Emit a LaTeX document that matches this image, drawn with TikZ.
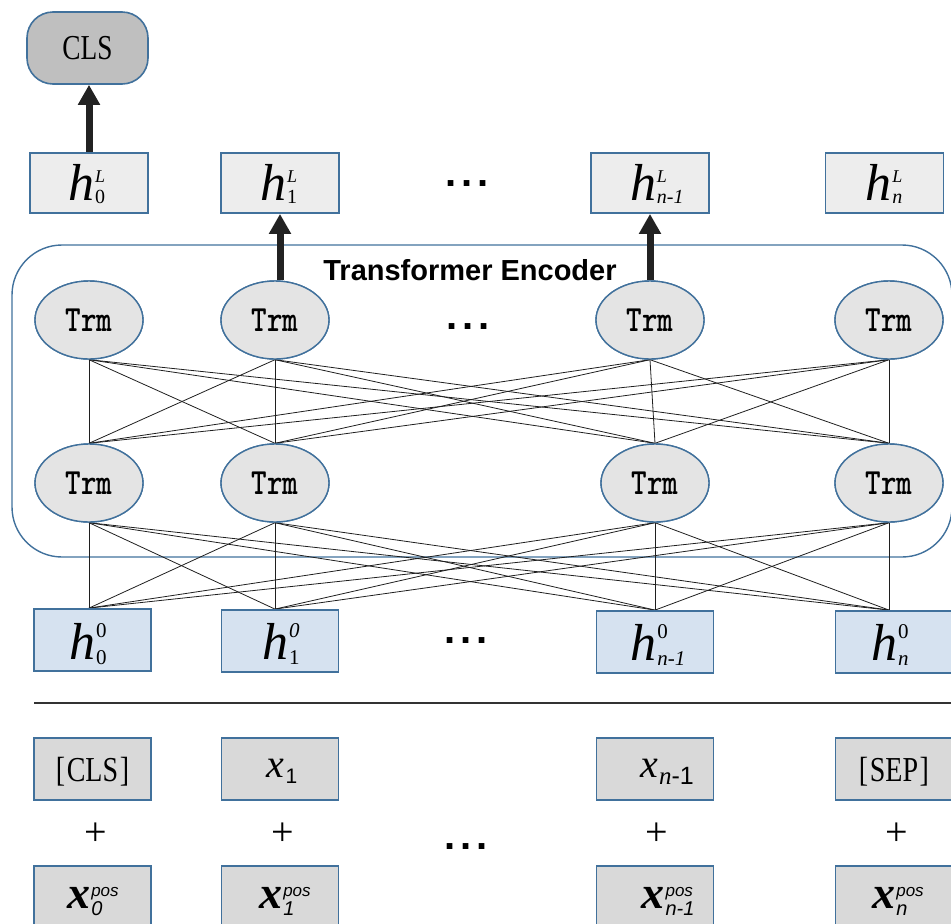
\documentclass[tikz,border=0pt]{standalone}
\usepackage{fontspec}
\usepackage{graphicx}
\usepackage{calc}
\setmainfont{Liberation Serif}
\setsansfont{Liberation Sans}
\usetikzlibrary{arrows.meta,shapes.geometric}

\definecolor{bblue}{HTML}{41719C}
\definecolor{hgray}{HTML}{EDEDED}
\definecolor{tgray}{HTML}{E4E4E4}
\definecolor{hblue}{HTML}{D6E2F0}
\definecolor{igray}{HTML}{D9D9D9}
\definecolor{clsgray}{HTML}{BFBFBF}
\definecolor{meshc}{HTML}{1F1F1F}
\definecolor{arrc}{HTML}{222222}
\definecolor{rulec}{HTML}{333333}

\newcommand\fs[1]{\fontsize{#1}{#1}\selectfont}
% stacked super/subscript: sup, sub, raise, lower
\newlength\scrw
\newcommand\scr[4]{%
  \setlength\scrw{\maxof{\widthof{#1}}{\widthof{#2}}}%
  \rlap{\raisebox{#3}{#1}}\rlap{\raisebox{-#4}{#2}}\hspace*{\scrw}}
\newcommand\hsym{{\fs{52}\itshape h}\kern0.5pt}
\newcommand\hL[1]{\hsym{\fs{20}\scr{{\fs{18}\itshape L}}{#1}{18pt}{3pt}}}
\newcommand\hZ[2]{\hsym{\fs{21}\scr{#1}{#2}{22pt}{5pt}}}
\newcommand\xpos[1]{{\bfseries\itshape\fs{46}x}\kern1pt{\sffamily\itshape\scr{\fs{17}pos}{\fs{20}#1}{12pt}{7pt}}}
\newcommand\dotsrow{{\sffamily\bfseries\fs{40}.\kern5pt.\kern5pt.}}
\newcommand\trm{\scalebox{0.8}[1]{\ttfamily\bfseries\fs{37}Trm}}

\begin{document}
\begin{tikzpicture}[x=1pt,y=-1pt,
  bord/.style={draw=bblue,line width=1.8pt},
  hbox/.style={bord,fill=hgray,minimum width=118pt,minimum height=60pt,inner sep=0},
  hzbox/.style={bord,fill=hblue,minimum width=117pt,minimum height=62pt,inner sep=0},
  inbox/.style={bord,fill=igray,minimum width=117pt,minimum height=62pt,inner sep=0},
  trmnode/.style={ellipse,draw=bblue,line width=1.4pt,fill=tgray,minimum width=108pt,minimum height=78pt,inner sep=0},
  mesh/.style={draw=meshc,line width=0.8pt},
  bigarrow/.style={draw=arrc,line width=7pt,-{Triangle[length=20pt,width=21pt]}},
  lab/.style={anchor=base,inner sep=0},
  plus/.style={inner sep=0,font=\fs{40}},
]
\useasboundingbox (0,0) rectangle (951,924);
\clip (0,0) rectangle (951,924);

% encoder frame
\node[draw=bblue,line width=1.4pt,rounded corners=50pt,minimum width=940pt,minimum height=312pt,inner sep=0] (enc) at (482,401) {};
\node[lab] (enctitle) at (470,280) {\sffamily\bfseries\fs{29}Transformer Encoder};

% transformer blocks
\node[trmnode] (ta) at (89,320) {\trm};
\node[trmnode] (tb) at (275,320) {\trm};
\node[trmnode] (tc) at (650,320) {\trm};
\node[trmnode] (td) at (889,320) {\trm};
\node[trmnode] (ba) at (89,483) {\trm};
\node[trmnode] (bb) at (275,483) {\trm};
\node[trmnode] (bc) at (655,483) {\trm};
\node[trmnode] (bd) at (889,483) {\trm};

% input representation boxes
\node[hzbox] (h00) at (92.5,640) {};
\node[hzbox] (h01) at (280,641) {};
\node[hzbox] (h0m) at (655,642) {};
\node[hzbox] (h0n) at (894,642) {};

% full connections between layers
\foreach \u in {ta,tb,tc,td}
  \foreach \v in {ba,bb,bc,bd}
    \draw[mesh] (\u.south) -- (\v.north);
\foreach \u in {ba,bb,bc,bd}
  \foreach \v/\z in {ba/h00,bb/h01,bc/h0m,bd/h0n}
    \draw[mesh] (\u.south) -- (\v.south |- \z.north);

% blocks drawn again over the line ends
\foreach \p in {{89,320},{275,320},{650,320},{889,320},{89,483},{275,483},{655,483},{889,483}}
  \node[trmnode] at (\p) {\trm};
\node[hzbox] at (92.5,640) {};
\node[hzbox] at (280,641) {};
\node[hzbox] at (655,642) {};
\node[hzbox] at (894,642) {};

% output hidden states
\node[draw=bblue,line width=1.6pt,fill=clsgray,rounded corners=26pt,minimum width=121pt,minimum height=72pt,inner sep=0] (cls) at (87.5,48) {\scalebox{0.78}[1]{\fs{35}CLS}};
\node[hbox] (hL0) at (89,183) {};
\node[hbox] (hL1) at (280,183) {};
\node[hbox] (hLm) at (650,183) {};
\node[hbox] (hLn) at (884.5,183) {};
\node[lab] (lhL0) at (87,200) {\hL{0}};
\node[lab] (lhL1) at (279,200) {\hL{1}};
\node[lab] (lhLm) at (657,200) {\hL{\itshape n-1}};
\node[lab] (lhLn) at (884,200) {\hL{\itshape n}};
\node[lab] (dots1) at (467,186) {\dotsrow};
\node[lab] (dots2) at (468,329) {\dotsrow};

% arrows
\draw[bigarrow] (hL0.north) -- (hL0.north |- cls.south);
\draw[bigarrow] (hL1.south |- tb.north) -- (hL1.south);
\draw[bigarrow] (tc.north) -- (tc.north |- hLm.south);

% labels of the input representations
\node[lab] (lh00) at (88,659) {\hZ{0}{0}};
\node[lab] (lh01) at (281,659) {\hZ{\itshape 0}{1}};
\node[lab] (lh0m) at (658,660) {\hZ{0}{\itshape n-1}};
\node[lab] (lh0n) at (890,660) {\hZ{0}{\itshape n}};
\node[lab] (dots3) at (466,643) {\dotsrow};

% separator
\coordinate (ruleL) at (34,703);
\coordinate (ruleR) at (951,703);
\draw[rulec,line width=2pt] (ruleL) -- (ruleR);

% token embeddings
\node[inbox] (ic) at (92.5,769) {};
\node[inbox] (i1) at (280,769) {};
\node[inbox] (im) at (655,769) {};
\node[inbox] (is) at (894,769) {};
\node[lab] (lic) at (92.5,781) {\scalebox{0.8}[1]{\fs{35}[\kern2pt CLS\kern2pt]}};
\node[lab] (li1) at (282,777) {{\itshape\fs{40}x}\kern1pt{\sffamily\fs{21}\raisebox{-6pt}{1}}};
\node[lab] (lim) at (667,777) {{\itshape\fs{40}x}\kern1pt{\fs{25}\raisebox{-7pt}{\itshape n{\sffamily\upshape -1}}}};
\node[lab] (lis) at (894,781) {\scalebox{0.8}[1]{\fs{35}[\kern2pt SEP\kern2pt]}};

% plus signs
\node[plus] (pl0) at (96,834) {+};
\node[plus] (pl1) at (283,834) {+};
\node[plus] (plm) at (657,834) {+};
\node[plus] (pln) at (897,834) {+};
\node[lab] (dots4) at (466,849) {\dotsrow};

% position embeddings
\node[inbox] (p0) at (92.5,897) {};
\node[inbox] (p1) at (280,897) {};
\node[inbox] (pm) at (655,897) {};
\node[inbox] (pn) at (894,897) {};
\node[lab] (lp0) at (93,908) {\xpos{0}};
\node[lab] (lp1) at (285,908) {\xpos{1}};
\node[lab] (lpm) at (668,908) {\xpos{n-1}};
\node[lab] (lpn) at (898,908) {\xpos{n}};
\end{tikzpicture}
\end{document}
